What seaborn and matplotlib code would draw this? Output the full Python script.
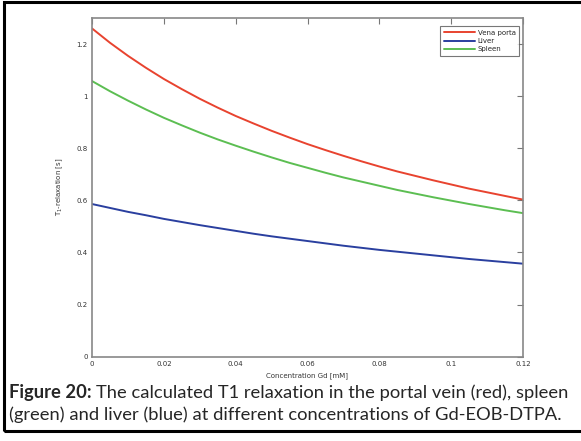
import matplotlib
matplotlib.use("Agg")
import matplotlib.pyplot as plt
import seaborn as sns
import pandas as pd
from matplotlib.patches import Rectangle

# concentration Gd [mM]
conc = [0.0, 0.005, 0.01, 0.015, 0.02, 0.025, 0.03, 0.035, 0.04, 0.045, 0.05, 0.055, 0.06,
        0.065, 0.07, 0.075, 0.08, 0.085, 0.09, 0.095, 0.10, 0.105, 0.11, 0.115, 0.12]
# T1 relaxation [s]
vena_porta = [1.260, 1.205, 1.155, 1.109, 1.066, 1.027, 0.990, 0.956, 0.924, 0.895, 0.867, 0.841, 0.816,
              0.793, 0.771, 0.750, 0.730, 0.711, 0.694, 0.677, 0.661, 0.645, 0.631, 0.617, 0.603]
liver = [0.586, 0.571, 0.556, 0.543, 0.529, 0.517, 0.505, 0.494, 0.483, 0.472, 0.462, 0.453, 0.444,
         0.435, 0.426, 0.418, 0.410, 0.403, 0.396, 0.389, 0.382, 0.375, 0.369, 0.363, 0.357]
spleen = [1.058, 1.019, 0.983, 0.949, 0.917, 0.888, 0.860, 0.834, 0.810, 0.787, 0.765, 0.744, 0.725,
          0.706, 0.688, 0.672, 0.656, 0.640, 0.626, 0.612, 0.599, 0.586, 0.574, 0.562, 0.551]

series_names = ["Vena porta", "Liver", "Spleen"]
colors = ["#e8432f", "#2a3f9f", "#5cbe52"]
xticks = [0, 0.02, 0.04, 0.06, 0.08, 0.1, 0.12]
xticklabels = ["0", "0.02", "0.04", "0.06", "0.08", "0.1", "0.12"]
yticks = [0, 0.2, 0.4, 0.6, 0.8, 1.0, 1.2]
yticklabels = ["0", "0.2", "0.4", "0.6", "0.8", "1", "1.2"]

df = pd.concat([
    pd.DataFrame({"conc": conc, "t1": vals, "tissue": name})
    for name, vals in zip(series_names, [vena_porta, liver, spleen])
])

sns.set_style("white")
plt.rcParams['font.family'] = ['DejaVu Sans']

fig = plt.figure(figsize=(5.81, 4.41), dpi=100)
ax = fig.add_axes([92/581, 1 - 356.7/441, 431/581, 338.7/441])

sns.lineplot(data=df, x="conc", y="t1", hue="tissue", hue_order=series_names,
             palette=colors, linewidth=1.4, ax=ax)

ax.set_xlim(0, 0.12)
ax.set_ylim(0, 1.3)
ax.set_xticks(xticks)
ax.set_xticklabels(xticklabels)
ax.set_yticks(yticks)
ax.set_yticklabels(yticklabels)
ax.tick_params(direction="in", length=4, width=0.8, color="#777777",
               labelsize=5, labelcolor="#333333", top=True, right=True, pad=3)
for sp in ax.spines.values():
    sp.set_color("#888888")
    sp.set_linewidth(1.2)

ax.set_xlabel("Concentration Gd [mM]", fontsize=5, color="#333333", labelpad=4)
ax.set_ylabel("T$_1$-relaxation [s]", fontsize=5, color="#333333", labelpad=8)

leg = ax.legend(loc="upper right", bbox_to_anchor=(0.991, 0.976), borderaxespad=0,
                fontsize=5, frameon=True, fancybox=False, handlelength=4.5,
                labelspacing=0.35, borderpad=0.5, handletextpad=0.4)
leg.get_frame().set_edgecolor("#555555")
leg.get_frame().set_linewidth(0.8)

# caption
cap_font = ["Lato", "DejaVu Sans"]
cap_size = 13.2
t1 = fig.text(9/581, 1 - 398/441, "Figure 20:", fontsize=cap_size, fontweight="bold",
              family=cap_font, ha="left", va="baseline")
fig.canvas.draw()
bb = t1.get_window_extent()
fig.text(bb.x1/581 + 0.008, 1 - 398/441,
         "The calculated T1 relaxation in the portal vein (red), spleen",
         fontsize=cap_size, family=cap_font, ha="left", va="baseline")
fig.text(9/581, 1 - 420/441,
         "(green) and liver (blue) at different concentrations of Gd-EOB-DTPA.",
         fontsize=cap_size, family=cap_font, ha="left", va="baseline")

# page frame
fig.patches.append(Rectangle((4/581, 1 - 431/441), 1.2, (431 - 2)/441,
                             transform=fig.transFigure, fill=False,
                             edgecolor="black", linewidth=2.2))

fig.savefig("out.png", dpi=100)
